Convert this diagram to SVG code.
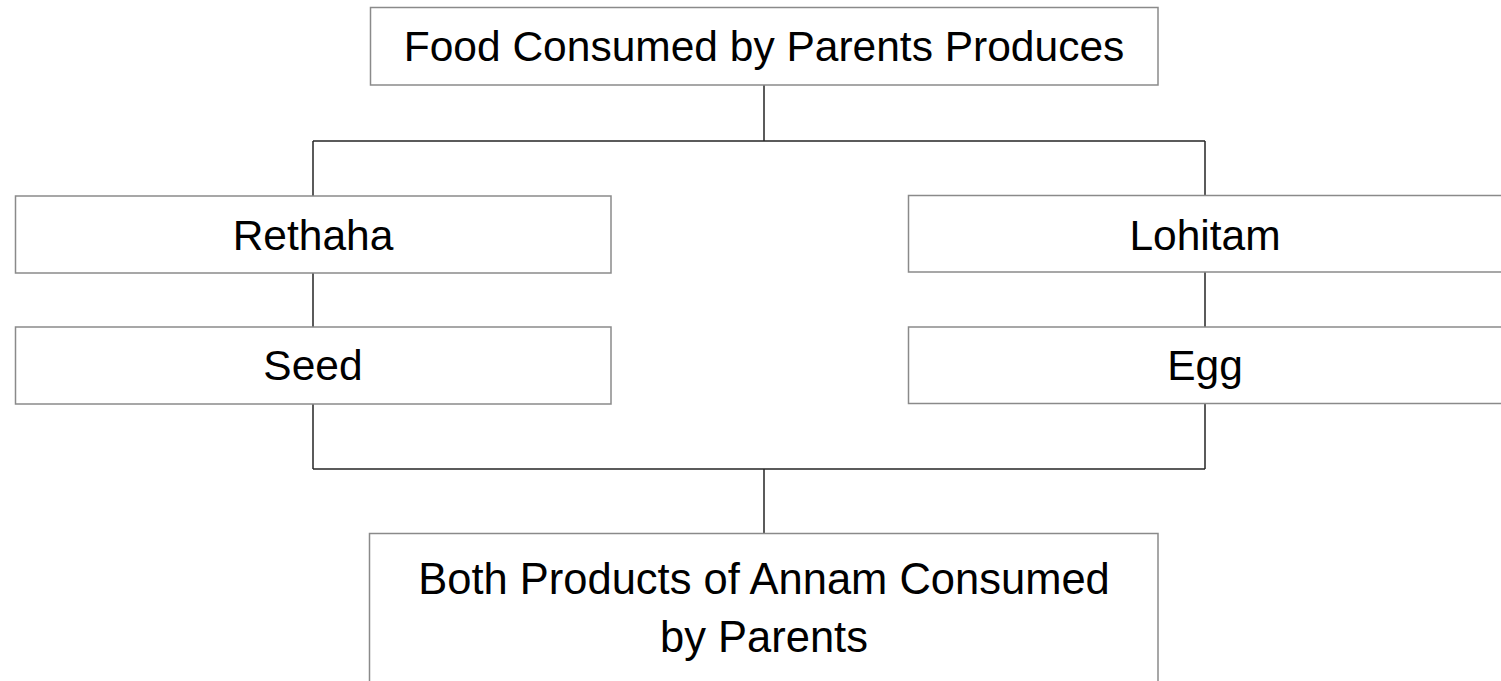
<svg xmlns="http://www.w3.org/2000/svg" width="1501" height="681" viewBox="0 0 1501 681">
  <style>
    .box { fill: #ffffff; stroke: #8a8a8a; stroke-width: 1.5; }
    .lbl { font-family: "Liberation Sans", Arial, sans-serif; font-size: 42.5px; fill: #000000; text-anchor: middle; }
    .big { font-size: 43.5px; }
    .link { fill: none; stroke: #262626; stroke-width: 1.5; }
  </style>
  <rect width="1501" height="681" fill="#ffffff"/>

  <!-- connectors -->
  <g id="connectors">
    <path class="link" d="M764,85 V141 M313,141 H1205 M313,141 V196 M1205,141 V196"/>
    <path class="link" d="M313,273 V327 M1205,272 V327"/>
    <path class="link" d="M313,404 V469 M1205,403 V469 M313,469 H1205 M764,469 V533"/>
  </g>

  <g id="food">
    <rect class="box" x="370.5" y="7.5" width="787.5" height="77.5"/>
    <text class="lbl" x="764" y="61">Food Consumed by Parents Produces</text>
  </g>

  <g id="rethaha">
    <rect class="box" x="15.5" y="196" width="595.5" height="77"/>
    <text class="lbl" x="313" y="250">Rethaha</text>
  </g>

  <g id="lohitam">
    <rect class="box" x="908.5" y="195.5" width="600" height="76.5"/>
    <text class="lbl" x="1205" y="250">Lohitam</text>
  </g>

  <g id="seed">
    <rect class="box" x="15.5" y="327" width="595.5" height="77"/>
    <text class="lbl" x="313" y="380">Seed</text>
  </g>

  <g id="egg">
    <rect class="box" x="908.5" y="327" width="600" height="76.5"/>
    <text class="lbl" x="1205" y="380">Egg</text>
  </g>

  <g id="annam">
    <rect class="box" x="369.5" y="533.5" width="788.5" height="170"/>
    <text class="lbl big" x="764" y="594">Both Products of Annam Consumed</text>
    <text class="lbl big" x="764" y="652">by Parents</text>
  </g>
</svg>
